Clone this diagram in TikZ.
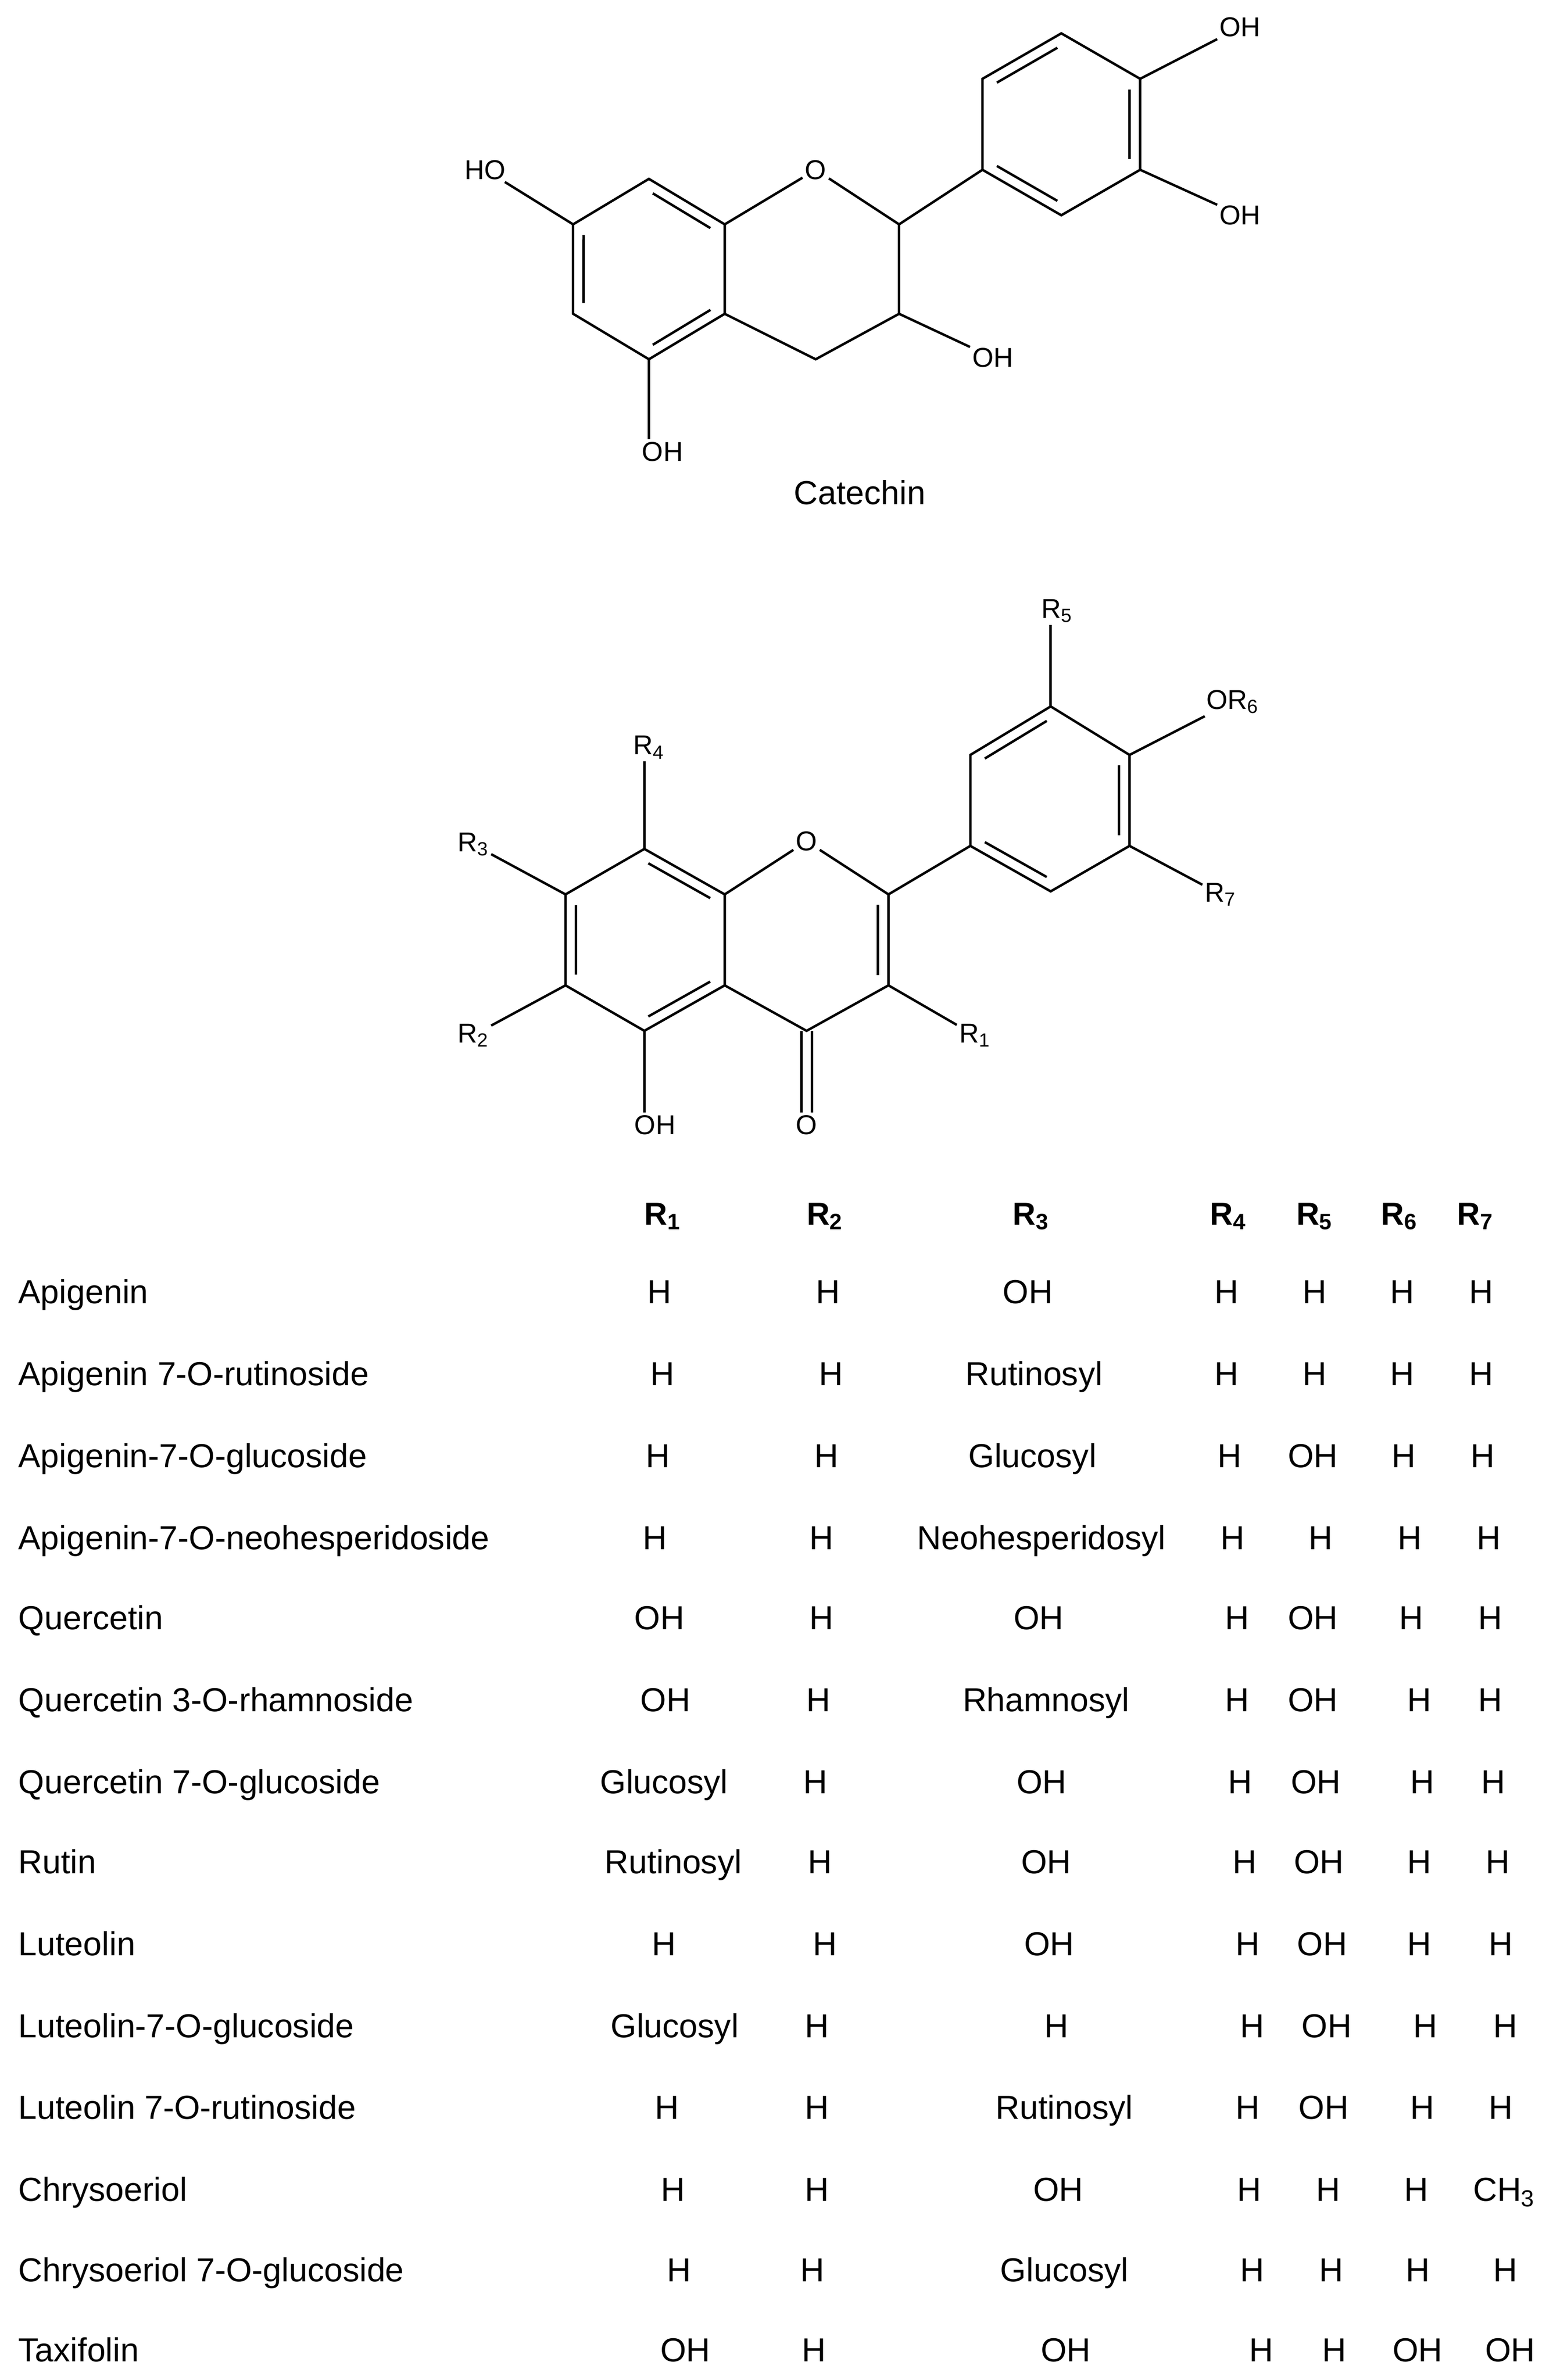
\documentclass[tikz,border=0pt]{standalone}
\usepackage{fontspec}
\setmainfont{Liberation Sans}
\usetikzlibrary{calc}
\tikzset{bond/.style={line width=1.6pt},
 atom/.style={inner sep=1.5pt,font=\fontsize{18}{18}\selectfont},
 cell/.style={inner sep=0pt,font=\fontsize{22}{22}\selectfont,anchor=base},
 cname/.style={cell,anchor=base west},
 hdr/.style={cell,font=\fontsize{21}{21}\selectfont\bfseries}}
\newcommand{\dbl}[3]{\draw[bond,shorten <=3pt,shorten >=3pt] ($(#1)!8pt!(#3)$) -- ($(#2)!8pt!(#3)$);}
\begin{document}
\begin{tikzpicture}[x=1pt,y=-1pt]
\useasboundingbox (0,0) rectangle (1024,1570);
% ---- Catechin
\coordinate (a1) at (378,148); \coordinate (a2) at (428,118); \coordinate (a3) at (478,148);
\coordinate (a4) at (478,207); \coordinate (a5) at (428,237); \coordinate (a6) at (378,207);
\coordinate (ac) at (428,177);
\node[atom] (cO) at (538,112) {O};
\coordinate (c2) at (593,148); \coordinate (c3) at (593,207); \coordinate (c4) at (538,237);
\coordinate (b1) at (648,112); \coordinate (b2) at (648,52); \coordinate (b3) at (700,22);
\coordinate (b4) at (752,52); \coordinate (b5) at (752,112); \coordinate (b6) at (700,142);
\coordinate (bc) at (700,82);
\node[atom] (cHO) at (320,112) {HO};
\node[atom] (cOH5) at (437,298) {OH};
\node[atom] (cOH3) at (655,236) {OH};
\node[atom] (cOHa) at (818,18) {OH};
\node[atom] (cOHb) at (818,142) {OH};
\draw[bond] (a1)--(a2)--(a3)--(a4)--(a5)--(a6)--cycle;
\draw[bond] (a3)--(cO)--(c2)--(c3)--(c4)--(a4);
\draw[bond] (b1)--(b2)--(b3)--(b4)--(b5)--(b6)--cycle;
\draw[bond] (c2)--(b1); \draw[bond] (c3)--(cOH3); \draw[bond] (a5)--(a5|-cOH5.north);
\draw[bond] (a1)--(cHO); \draw[bond] (b4)--(cOHa); \draw[bond] (b5)--(cOHb);
\dbl{a6}{a1}{ac} \dbl{a2}{a3}{ac} \dbl{a4}{a5}{ac}
\dbl{b2}{b3}{bc} \dbl{b4}{b5}{bc} \dbl{b6}{b1}{bc}
\node[cell,anchor=center] (catname) at (567,325) {Catechin};
% ---- Flavone
\coordinate (f1) at (373,590); \coordinate (f2) at (425,560); \coordinate (f3) at (478,590);
\coordinate (f4) at (478,650); \coordinate (f5) at (425,680); \coordinate (f6) at (373,650);
\coordinate (fc) at (425,620);
\node[atom] (fO) at (532,555) {O};
\coordinate (g2) at (586,590); \coordinate (g3) at (586,650); \coordinate (g4) at (532,680);
\coordinate (gc) at (532,620);
\coordinate (h1) at (640,558); \coordinate (h2) at (640,498); \coordinate (h3) at (693,466);
\coordinate (h4) at (745,498); \coordinate (h5) at (745,558); \coordinate (h6) at (693,588);
\coordinate (hc) at (693,528);
\node[atom] (R3) at (312,557) {R\textsubscript{3}};
\node[atom] (R2) at (312,683) {R\textsubscript{2}};
\node[atom] (R4) at (428,493) {R\textsubscript{4}};
\node[atom] (fOH) at (432,742) {OH};
\node[atom] (fOk) at (532,742) {O};
\node[atom] (R1) at (643,683) {R\textsubscript{1}};
\node[atom] (R5) at (697,403) {R\textsubscript{5}};
\node[atom] (R6) at (813,463) {OR\textsubscript{6}};
\node[atom] (R7) at (805,590) {R\textsubscript{7}};
\draw[bond] (f1)--(f2)--(f3)--(f4)--(f5)--(f6)--cycle;
\draw[bond] (f3)--(fO)--(g2)--(g3)--(g4)--(f4);
\draw[bond] (h1)--(h2)--(h3)--(h4)--(h5)--(h6)--cycle;
\draw[bond] (g2)--(h1);
\draw[bond] (f1)--(R3); \draw[bond] (f6)--(R2); \draw[bond] (f2)--(f2|-R4.south);
\draw[bond] (f5)--(f5|-fOH.north); \draw[bond] (g3)--(R1);
\draw[bond] (h3)--(h3|-R5.south); \draw[bond] (h4)--(R6); \draw[bond] (h5)--(R7);
\draw[bond] ($(g4)+(-3.5,0)$)--($(fOk.north)+(-3.5,0)$);
\draw[bond] ($(g4)+(3.5,0)$)--($(fOk.north)+(3.5,0)$);
\dbl{f6}{f1}{fc} \dbl{f2}{f3}{fc} \dbl{f4}{f5}{fc}
\dbl{g2}{g3}{gc}
\dbl{h2}{h3}{hc} \dbl{h4}{h5}{hc} \dbl{h6}{h1}{hc}
% ---- Table
\foreach \x/\t [count=\i] in {437/R\textsubscript{1},544/R\textsubscript{2},680/R\textsubscript{3},810/R\textsubscript{4},867/R\textsubscript{5},923/R\textsubscript{6},973/R\textsubscript{7}}
  \node[hdr] (hd\i) at (\x,808) {\t};
\foreach \y/\nm/\a/\xa/\b/\xb/\c/\xc/\d/\xd/\e/\xe/\f/\xf/\g/\xg [count=\r] in {
860/Apigenin/H/435/H/546/OH/678/H/809/H/867/H/925/H/977,
914/Apigenin 7-O-rutinoside/H/437/H/548/Rutinosyl/682/H/809/H/867/H/925/H/977,
968/Apigenin-7-O-glucoside/H/434/H/545/Glucosyl/681/H/811/OH/866/H/926/H/978,
1022/Apigenin-7-O-neohesperidoside/H/432/H/542/Neohesperidosyl/687/H/813/H/871/H/930/H/982,
1075/Quercetin/OH/435/H/542/OH/685/H/816/OH/866/H/931/H/983,
1129/Quercetin 3-O-rhamnoside/OH/439/H/540/Rhamnosyl/690/H/816/OH/866/H/936/H/983,
1183/Quercetin 7-O-glucoside/Glucosyl/438/H/538/OH/687/H/818/OH/868/H/938/H/985,
1236/Rutin/Rutinosyl/444/H/541/OH/690/H/821/OH/870/H/936/H/988,
1290/Luteolin/H/438/H/544/OH/692/H/823/OH/872/H/936/H/990,
1344/Luteolin-7-O-glucoside/Glucosyl/445/H/539/H/697/H/826/OH/875/H/940/H/993,
1398/Luteolin 7-O-rutinoside/H/440/H/539/Rutinosyl/702/H/823/OH/873/H/938/H/990,
1452/Chrysoeriol/H/444/H/539/OH/698/H/824/H/876/H/934/CH\textsubscript{3}/992,
1505/Chrysoeriol 7-O-glucoside/H/448/H/536/Glucosyl/702/H/826/H/878/H/935/H/993,
1558/Taxifolin/OH/452/H/537/OH/703/H/832/H/880/OH/935/OH/996}
{
  \node[cname] (n\r) at (12,\y) {\nm};
  \node[cell] (v\r a) at (\xa,\y) {\a};
  \node[cell] (v\r b) at (\xb,\y) {\b};
  \node[cell] (v\r c) at (\xc,\y) {\c};
  \node[cell] (v\r d) at (\xd,\y) {\d};
  \node[cell] (v\r e) at (\xe,\y) {\e};
  \node[cell] (v\r f) at (\xf,\y) {\f};
  \node[cell] (v\r g) at (\xg,\y) {\g};
}
\end{tikzpicture}
\end{document}
